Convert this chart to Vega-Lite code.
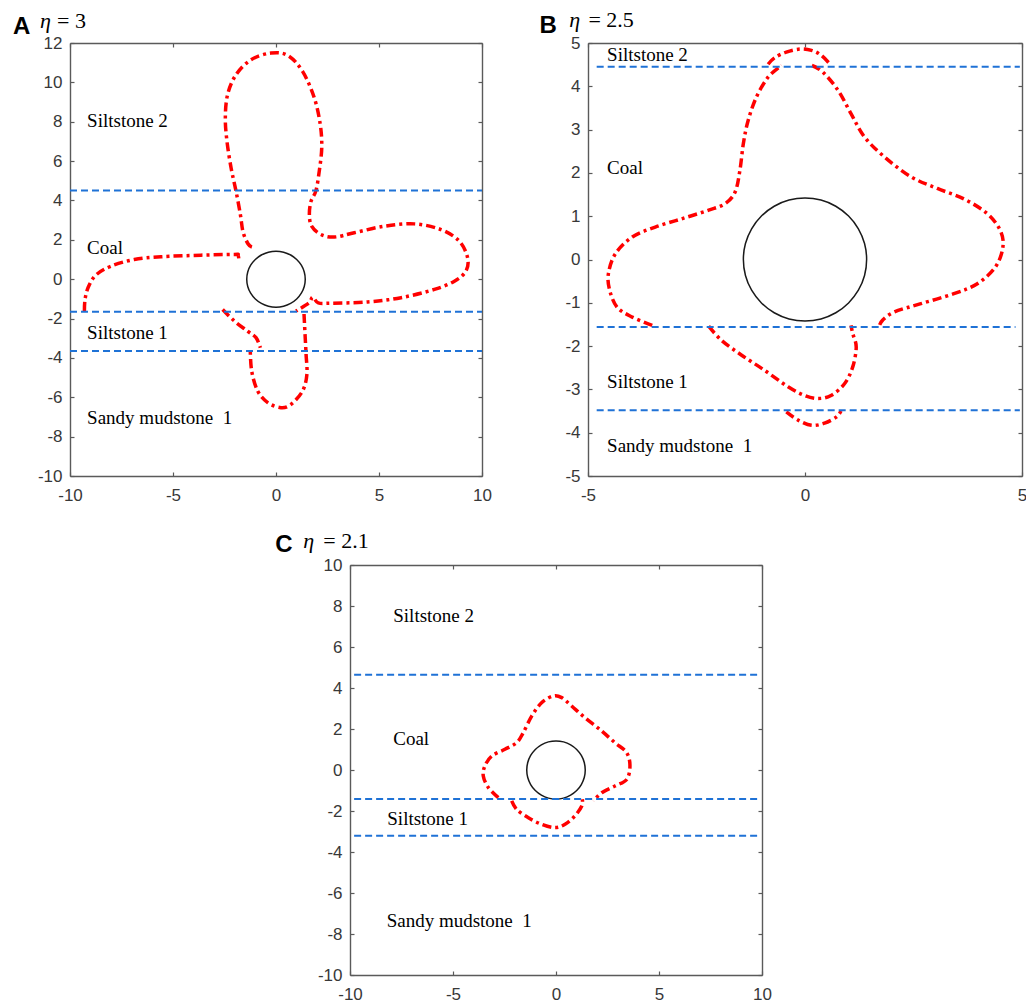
{
  "$schema": "https://vega.github.io/schema/vega-lite/v6.json",
  "background": "white",
  "padding": {"left": 12, "top": 9, "right": 0, "bottom": 0},
  "autosize": {"type": "pad"},
  "config": {
    "view": {"stroke": null},
    "axis": {"grid": false, "labelFont": "Liberation Sans", "labelFontSize": 17, "labelColor": "#383838", "domainColor": "#5a5a5a", "domainWidth": 1.4, "tickColor": "#5a5a5a", "tickWidth": 1.2, "tickSize": -4, "labelFlush": false, "labelOverlap": false},
    "axisBottom": {"labelPadding": 15},
    "axisLeft": {"labelPadding": 12}
  },
  "datasets": {
    "circle": [
      {"x": 1.42, "y": 0}, {"x": 1.372, "y": 0.368}, {"x": 1.23, "y": 0.71}, {"x": 1.004, "y": 1.004}, {"x": 0.71, "y": 1.23}, {"x": 0.368, "y": 1.372},
      {"x": 0, "y": 1.42}, {"x": -0.368, "y": 1.372}, {"x": -0.71, "y": 1.23}, {"x": -1.004, "y": 1.004}, {"x": -1.23, "y": 0.71}, {"x": -1.372, "y": 0.368},
      {"x": -1.42, "y": 0}, {"x": -1.372, "y": -0.368}, {"x": -1.23, "y": -0.71}, {"x": -1.004, "y": -1.004}, {"x": -0.71, "y": -1.23}, {"x": -0.368, "y": -1.372},
      {"x": 0, "y": -1.42}, {"x": 0.368, "y": -1.372}, {"x": 0.71, "y": -1.23}, {"x": 1.004, "y": -1.004}, {"x": 1.23, "y": -0.71}, {"x": 1.372, "y": -0.368}
    ],
    "curvesA": [
      {"seg": "a1", "x": -9.30, "y": -1.62}, {"seg": "a1", "x": -9.27, "y": -1.03}, {"seg": "a1", "x": -9.11, "y": -0.40}, {"seg": "a1", "x": -8.74, "y": 0.21}, {"seg": "a1", "x": -8.01, "y": 0.66}, {"seg": "a1", "x": -6.88, "y": 1.00}, {"seg": "a1", "x": -5.58, "y": 1.14}, {"seg": "a1", "x": -3.64, "y": 1.22}, {"seg": "a1", "x": -2.02, "y": 1.26}, {"seg": "a1", "x": -1.85, "y": 1.24}, {"seg": "a1", "x": -1.80, "y": 0.97},
      {"seg": "a2", "x": -1.17, "y": 1.63}, {"seg": "a2", "x": -1.36, "y": 1.80}, {"seg": "a2", "x": -1.60, "y": 2.40}, {"seg": "a2", "x": -1.73, "y": 3.29}, {"seg": "a2", "x": -1.94, "y": 4.47}, {"seg": "a2", "x": -2.18, "y": 5.65}, {"seg": "a2", "x": -2.38, "y": 7.01}, {"seg": "a2", "x": -2.46, "y": 8.19}, {"seg": "a2", "x": -2.35, "y": 9.38}, {"seg": "a2", "x": -1.94, "y": 10.39}, {"seg": "a2", "x": -1.21, "y": 11.15}, {"seg": "a2", "x": -0.24, "y": 11.49}, {"seg": "a2", "x": 0.57, "y": 11.37}, {"seg": "a2", "x": 1.29, "y": 10.56}, {"seg": "a2", "x": 1.86, "y": 9.21}, {"seg": "a2", "x": 2.15, "y": 7.85}, {"seg": "a2", "x": 2.22, "y": 6.67}, {"seg": "a2", "x": 2.10, "y": 5.49}, {"seg": "a2", "x": 1.94, "y": 4.50}, {"seg": "a2", "x": 1.70, "y": 3.96}, {"seg": "a2", "x": 1.62, "y": 3.29}, {"seg": "a2", "x": 1.73, "y": 2.69}, {"seg": "a2", "x": 2.18, "y": 2.27}, {"seg": "a2", "x": 2.83, "y": 2.14}, {"seg": "a2", "x": 3.80, "y": 2.36}, {"seg": "a2", "x": 5.26, "y": 2.69}, {"seg": "a2", "x": 6.72, "y": 2.81}, {"seg": "a2", "x": 8.01, "y": 2.52}, {"seg": "a2", "x": 8.90, "y": 1.93}, {"seg": "a2", "x": 9.30, "y": 1.09}, {"seg": "a2", "x": 9.22, "y": 0.41}, {"seg": "a2", "x": 8.66, "y": -0.10}, {"seg": "a2", "x": 7.69, "y": -0.52}, {"seg": "a2", "x": 6.07, "y": -0.94}, {"seg": "a2", "x": 4.45, "y": -1.16}, {"seg": "a2", "x": 2.67, "y": -1.22}, {"seg": "a2", "x": 2.05, "y": -1.20}, {"seg": "a2", "x": 1.78, "y": -0.91}, {"seg": "a2", "x": 1.60, "y": -1.20}, {"seg": "a2", "x": 0.97, "y": -1.62},
      {"seg": "a3", "x": -2.59, "y": -1.54}, {"seg": "a3", "x": -2.02, "y": -2.13}, {"seg": "a3", "x": -1.38, "y": -2.64}, {"seg": "a3", "x": -0.97, "y": -2.97}, {"seg": "a3", "x": -0.76, "y": -3.48},
      {"seg": "a4", "x": 1.36, "y": -1.77}, {"seg": "a4", "x": 1.41, "y": -2.81}, {"seg": "a4", "x": 1.46, "y": -3.82}, {"seg": "a4", "x": 1.50, "y": -4.84}, {"seg": "a4", "x": 1.29, "y": -5.68}, {"seg": "a4", "x": 0.73, "y": -6.36}, {"seg": "a4", "x": 0.24, "y": -6.53}, {"seg": "a4", "x": -0.40, "y": -6.27}, {"seg": "a4", "x": -0.89, "y": -5.68}, {"seg": "a4", "x": -1.18, "y": -4.67}, {"seg": "a4", "x": -1.25, "y": -3.57}
    ],
    "curvesB": [
      {"seg": "b1", "x": -3.52, "y": -1.52}, {"seg": "b1", "x": -3.98, "y": -1.33}, {"seg": "b1", "x": -4.33, "y": -1.10}, {"seg": "b1", "x": -4.50, "y": -0.71}, {"seg": "b1", "x": -4.53, "y": -0.33}, {"seg": "b1", "x": -4.37, "y": 0.13}, {"seg": "b1", "x": -3.98, "y": 0.52}, {"seg": "b1", "x": -3.45, "y": 0.75}, {"seg": "b1", "x": -2.84, "y": 0.94}, {"seg": "b1", "x": -2.22, "y": 1.14}, {"seg": "b1", "x": -1.84, "y": 1.29}, {"seg": "b1", "x": -1.61, "y": 1.56}, {"seg": "b1", "x": -1.50, "y": 2.06}, {"seg": "b1", "x": -1.42, "y": 2.68}, {"seg": "b1", "x": -1.31, "y": 3.21}, {"seg": "b1", "x": -1.12, "y": 3.75}, {"seg": "b1", "x": -0.85, "y": 4.21}, {"seg": "b1", "x": -0.54, "y": 4.48},
      {"seg": "bc", "x": -0.85, "y": 4.51}, {"seg": "bc", "x": -0.70, "y": 4.66}, {"seg": "bc", "x": -0.43, "y": 4.79}, {"seg": "bc", "x": -0.12, "y": 4.86}, {"seg": "bc", "x": 0.15, "y": 4.83}, {"seg": "bc", "x": 0.37, "y": 4.72}, {"seg": "bc", "x": 0.57, "y": 4.52},
      {"seg": "b2", "x": 0.16, "y": 4.48}, {"seg": "b2", "x": 0.41, "y": 4.33}, {"seg": "b2", "x": 0.76, "y": 3.91}, {"seg": "b2", "x": 1.06, "y": 3.37}, {"seg": "b2", "x": 1.37, "y": 2.83}, {"seg": "b2", "x": 1.83, "y": 2.37}, {"seg": "b2", "x": 2.44, "y": 1.91}, {"seg": "b2", "x": 3.05, "y": 1.64}, {"seg": "b2", "x": 3.66, "y": 1.40}, {"seg": "b2", "x": 4.20, "y": 1.06}, {"seg": "b2", "x": 4.50, "y": 0.67}, {"seg": "b2", "x": 4.56, "y": 0.29}, {"seg": "b2", "x": 4.39, "y": -0.17}, {"seg": "b2", "x": 3.97, "y": -0.56}, {"seg": "b2", "x": 3.43, "y": -0.79}, {"seg": "b2", "x": 2.67, "y": -1.02}, {"seg": "b2", "x": 2.06, "y": -1.21}, {"seg": "b2", "x": 1.79, "y": -1.40}, {"seg": "b2", "x": 1.71, "y": -1.54},
      {"seg": "b3", "x": -2.22, "y": -1.54}, {"seg": "b3", "x": -1.92, "y": -1.87}, {"seg": "b3", "x": -1.46, "y": -2.21}, {"seg": "b3", "x": -0.93, "y": -2.56}, {"seg": "b3", "x": -0.39, "y": -2.94}, {"seg": "b3", "x": -0.01, "y": -3.14}, {"seg": "b3", "x": 0.30, "y": -3.21}, {"seg": "b3", "x": 0.60, "y": -3.14}, {"seg": "b3", "x": 0.91, "y": -2.87}, {"seg": "b3", "x": 1.10, "y": -2.48}, {"seg": "b3", "x": 1.18, "y": -2.02}, {"seg": "b3", "x": 1.10, "y": -1.71}, {"seg": "b3", "x": 1.06, "y": -1.52},
      {"seg": "b4", "x": -0.43, "y": -3.52}, {"seg": "b4", "x": -0.16, "y": -3.71}, {"seg": "b4", "x": 0.15, "y": -3.83}, {"seg": "b4", "x": 0.45, "y": -3.78}, {"seg": "b4", "x": 0.72, "y": -3.64}, {"seg": "b4", "x": 0.83, "y": -3.50}
    ],
    "curvesC": [
      {"seg": "c1", "x": -2.80, "y": -1.35}, {"seg": "c1", "x": -3.28, "y": -0.86}, {"seg": "c1", "x": -3.53, "y": -0.29}, {"seg": "c1", "x": -3.45, "y": 0.20}, {"seg": "c1", "x": -3.12, "y": 0.68}, {"seg": "c1", "x": -2.48, "y": 1.01}, {"seg": "c1", "x": -1.91, "y": 1.33}, {"seg": "c1", "x": -1.59, "y": 1.82}, {"seg": "c1", "x": -1.18, "y": 2.63}, {"seg": "c1", "x": -0.70, "y": 3.28}, {"seg": "c1", "x": -0.13, "y": 3.61}, {"seg": "c1", "x": 0.28, "y": 3.53}, {"seg": "c1", "x": 0.76, "y": 3.12}, {"seg": "c1", "x": 1.41, "y": 2.55}, {"seg": "c1", "x": 2.22, "y": 1.90}, {"seg": "c1", "x": 2.86, "y": 1.33}, {"seg": "c1", "x": 3.43, "y": 0.85}, {"seg": "c1", "x": 3.59, "y": 0.20}, {"seg": "c1", "x": 3.43, "y": -0.46}, {"seg": "c1", "x": 2.86, "y": -0.78}, {"seg": "c1", "x": 2.22, "y": -1.11}, {"seg": "c1", "x": 1.81, "y": -1.51},
      {"seg": "c2", "x": -2.15, "y": -1.51}, {"seg": "c2", "x": -1.91, "y": -1.92}, {"seg": "c2", "x": -1.34, "y": -2.33}, {"seg": "c2", "x": -0.70, "y": -2.65}, {"seg": "c2", "x": -0.05, "y": -2.81}, {"seg": "c2", "x": 0.44, "y": -2.65}, {"seg": "c2", "x": 0.92, "y": -2.24}, {"seg": "c2", "x": 1.25, "y": -1.76}, {"seg": "c2", "x": 1.28, "y": -1.43}
    ],
    "linesA": [{"y": 4.5, "x": -10, "xe": 10}, {"y": -1.65, "x": -10, "xe": 10}, {"y": -3.65, "x": -10, "xe": 10}],
    "linesB": [{"y": 4.45, "x": -4.8, "xe": 4.95}, {"y": -1.56, "x": -4.8, "xe": 4.85}, {"y": -3.48, "x": -4.8, "xe": 4.95}],
    "linesC": [{"y": 4.65, "x": -9.8, "xe": 9.9}, {"y": -1.42, "x": -9.8, "xe": 9.9}, {"y": -3.21, "x": -9.8, "xe": 9.9}],
    "labelsA": [{"x": -9.17, "y": 8.03, "label": "Siltstone 2"}, {"x": -9.17, "y": 1.56, "label": "Coal"}, {"x": -9.17, "y": -2.72, "label": "Siltstone 1"}, {"x": -9.17, "y": -7.04, "label": "Sandy mudstone \u00a01"}],
    "labelsB": [{"x": -4.56, "y": 4.72, "label": "Siltstone 2"}, {"x": -4.56, "y": 2.11, "label": "Coal"}, {"x": -4.56, "y": -2.83, "label": "Siltstone 1"}, {"x": -4.56, "y": -4.31, "label": "Sandy mudstone \u00a01"}],
    "labelsC": [{"x": -7.9, "y": 7.52, "label": "Siltstone 2"}, {"x": -7.9, "y": 1.5, "label": "Coal"}, {"x": -8.19, "y": -2.37, "label": "Siltstone 1"}, {"x": -8.22, "y": -7.36, "label": "Sandy mudstone \u00a01"}]
  },
  "vconcat": [
    {
      "hconcat": [
        {
          "width": 412, "height": 433,
          "encoding": {
            "x": {"field": "x", "type": "quantitative", "scale": {"domain": [-10, 10], "nice": false, "zero": false}, "axis": null},
            "y": {"field": "y", "type": "quantitative", "scale": {"domain": [-10, 12], "nice": false, "zero": false}, "axis": null}
          },
          "layer": [
            {"data": {"name": "curvesA"}, "mark": {"type": "line", "stroke": "#ff0000", "strokeWidth": 3.5, "strokeDash": [9, 4, 3, 4], "interpolate": "cardinal"},
             "encoding": {
               "x": {"field": "x", "type": "quantitative", "scale": {"domain": [-10, 10], "nice": false, "zero": false}, "axis": {"orient": "bottom", "values": [-10, -5, 0, 5, 10], "title": null, "labelExpr": "'' + datum.value"}},
               "y": {"field": "y", "type": "quantitative", "scale": {"domain": [-10, 12], "nice": false, "zero": false}, "axis": {"orient": "left", "values": [-10, -8, -6, -4, -2, 0, 2, 4, 6, 8, 10, 12], "title": null, "labelExpr": "'' + datum.value"}},
               "detail": {"field": "seg"}, "order": {"value": null}}},
            {"data": {"name": "circle"}, "mark": {"type": "line", "stroke": "#1a1a1a", "strokeWidth": 1.5, "interpolate": "cardinal-closed"},
             "encoding": {
               "x": {"field": "x", "type": "quantitative", "scale": {"domain": [-10, 10], "nice": false, "zero": false}, "axis": {"orient": "top", "values": [-10, -5, 0, 5, 10], "labels": false, "title": null}},
               "y": {"field": "y", "type": "quantitative", "scale": {"domain": [-10, 12], "nice": false, "zero": false}, "axis": {"orient": "right", "values": [-10, -8, -6, -4, -2, 0, 2, 4, 6, 8, 10, 12], "labels": false, "title": null}},
               "order": {"value": null}}},
            {"data": {"name": "linesA"}, "mark": {"type": "rule", "stroke": "#1f72d6", "strokeWidth": 2, "strokeDash": [7, 4]}, "encoding": {"x2": {"field": "xe"}}},
            {"data": {"name": "labelsA"}, "mark": {"type": "text", "font": "Liberation Serif", "fontSize": 19, "align": "left", "baseline": "middle", "fill": "#000000"}, "encoding": {"text": {"field": "label"}}},
            {"data": {"values": [{"x": -12.77, "y": 12.44, "label": "A"}]}, "mark": {"type": "text", "font": "Liberation Sans", "fontWeight": "bold", "fontSize": 24, "align": "left", "baseline": "alphabetic", "fill": "#000000"}, "encoding": {"text": {"field": "label"}}},
            {"data": {"values": [{"x": -11.46, "y": 12.75, "label": "η"}]}, "mark": {"type": "text", "font": "Liberation Serif", "fontStyle": "italic", "fontSize": 22, "align": "left", "baseline": "alphabetic", "fill": "#000000"}, "encoding": {"text": {"field": "label"}}},
            {"data": {"values": [{"x": -10.63, "y": 12.75, "label": "= 3"}]}, "mark": {"type": "text", "font": "Liberation Serif", "fontSize": 22, "align": "left", "baseline": "alphabetic", "fill": "#000000"}, "encoding": {"text": {"field": "label"}}}
          ],
          "resolve": {"axis": {"x": "independent", "y": "independent"}}
        },
        {
          "width": 434, "height": 433,
          "encoding": {
            "x": {"field": "x", "type": "quantitative", "scale": {"domain": [-5, 5], "nice": false, "zero": false}, "axis": null},
            "y": {"field": "y", "type": "quantitative", "scale": {"domain": [-5, 5], "nice": false, "zero": false}, "axis": null}
          },
          "layer": [
            {"data": {"name": "curvesB"}, "mark": {"type": "line", "stroke": "#ff0000", "strokeWidth": 3.5, "strokeDash": [9, 4, 3, 4], "interpolate": "cardinal"},
             "encoding": {
               "x": {"field": "x", "type": "quantitative", "scale": {"domain": [-5, 5], "nice": false, "zero": false}, "axis": {"orient": "bottom", "values": [-5, 0, 5], "title": null, "labelExpr": "'' + datum.value"}},
               "y": {"field": "y", "type": "quantitative", "scale": {"domain": [-5, 5], "nice": false, "zero": false}, "axis": {"orient": "left", "values": [-5, -4, -3, -2, -1, 0, 1, 2, 3, 4, 5], "title": null, "labelExpr": "'' + datum.value"}},
               "detail": {"field": "seg"}, "order": {"value": null}}},
            {"data": {"name": "circle"}, "mark": {"type": "line", "stroke": "#1a1a1a", "strokeWidth": 1.5, "interpolate": "cardinal-closed"},
             "encoding": {
               "x": {"field": "x", "type": "quantitative", "scale": {"domain": [-5, 5], "nice": false, "zero": false}, "axis": {"orient": "top", "values": [-5, 0, 5], "labels": false, "title": null}},
               "y": {"field": "y", "type": "quantitative", "scale": {"domain": [-5, 5], "nice": false, "zero": false}, "axis": {"orient": "right", "values": [-5, -4, -3, -2, -1, 0, 1, 2, 3, 4, 5], "labels": false, "title": null}},
               "order": {"value": null}}},
            {"data": {"name": "linesB"}, "mark": {"type": "rule", "stroke": "#1f72d6", "strokeWidth": 2, "strokeDash": [7, 4]}, "encoding": {"x2": {"field": "xe"}}},
            {"data": {"name": "labelsB"}, "mark": {"type": "text", "font": "Liberation Serif", "fontSize": 19, "align": "left", "baseline": "middle", "fill": "#000000"}, "encoding": {"text": {"field": "label"}}},
            {"data": {"values": [{"x": -6.12, "y": 5.22, "label": "B"}]}, "mark": {"type": "text", "font": "Liberation Sans", "fontWeight": "bold", "fontSize": 24, "align": "left", "baseline": "alphabetic", "fill": "#000000"}, "encoding": {"text": {"field": "label"}}},
            {"data": {"values": [{"x": -5.43, "y": 5.36, "label": "η"}]}, "mark": {"type": "text", "font": "Liberation Serif", "fontStyle": "italic", "fontSize": 22, "align": "left", "baseline": "alphabetic", "fill": "#000000"}, "encoding": {"text": {"field": "label"}}},
            {"data": {"values": [{"x": -4.99, "y": 5.36, "label": "= 2.5"}]}, "mark": {"type": "text", "font": "Liberation Serif", "fontSize": 22, "align": "left", "baseline": "alphabetic", "fill": "#000000"}, "encoding": {"text": {"field": "label"}}}
          ],
          "resolve": {"axis": {"x": "independent", "y": "independent"}}
        }
      ],
      "spacing": 47
    },
    {
      "hconcat": [
        {"width": 195, "height": 10, "data": {"values": [{}]}, "mark": {"type": "text", "text": ""}},
        {
          "width": 412, "height": 410,
          "encoding": {
            "x": {"field": "x", "type": "quantitative", "scale": {"domain": [-10, 10], "nice": false, "zero": false}, "axis": null},
            "y": {"field": "y", "type": "quantitative", "scale": {"domain": [-10, 10], "nice": false, "zero": false}, "axis": null}
          },
          "layer": [
            {"data": {"name": "curvesC"}, "mark": {"type": "line", "stroke": "#ff0000", "strokeWidth": 3.5, "strokeDash": [9, 4, 3, 4], "interpolate": "cardinal"},
             "encoding": {
               "x": {"field": "x", "type": "quantitative", "scale": {"domain": [-10, 10], "nice": false, "zero": false}, "axis": {"orient": "bottom", "values": [-10, -5, 0, 5, 10], "title": null, "labelExpr": "'' + datum.value"}},
               "y": {"field": "y", "type": "quantitative", "scale": {"domain": [-10, 10], "nice": false, "zero": false}, "axis": {"orient": "left", "values": [-10, -8, -6, -4, -2, 0, 2, 4, 6, 8, 10], "title": null, "labelExpr": "'' + datum.value"}},
               "detail": {"field": "seg"}, "order": {"value": null}}},
            {"data": {"name": "circle"}, "mark": {"type": "line", "stroke": "#1a1a1a", "strokeWidth": 1.5, "interpolate": "cardinal-closed"},
             "encoding": {
               "x": {"field": "x", "type": "quantitative", "scale": {"domain": [-10, 10], "nice": false, "zero": false}, "axis": {"orient": "top", "values": [-10, -5, 0, 5, 10], "labels": false, "title": null}},
               "y": {"field": "y", "type": "quantitative", "scale": {"domain": [-10, 10], "nice": false, "zero": false}, "axis": {"orient": "right", "values": [-10, -8, -6, -4, -2, 0, 2, 4, 6, 8, 10], "labels": false, "title": null}},
               "order": {"value": null}}},
            {"data": {"name": "linesC"}, "mark": {"type": "rule", "stroke": "#1f72d6", "strokeWidth": 2, "strokeDash": [7, 4]}, "encoding": {"x2": {"field": "xe"}}},
            {"data": {"name": "labelsC"}, "mark": {"type": "text", "font": "Liberation Serif", "fontSize": 19, "align": "left", "baseline": "middle", "fill": "#000000"}, "encoding": {"text": {"field": "label"}}},
            {"data": {"values": [{"x": -13.63, "y": 10.62, "label": "C"}]}, "mark": {"type": "text", "font": "Liberation Sans", "fontWeight": "bold", "fontSize": 24, "align": "left", "baseline": "alphabetic", "fill": "#000000"}, "encoding": {"text": {"field": "label"}}},
            {"data": {"values": [{"x": -12.27, "y": 10.85, "label": "η"}]}, "mark": {"type": "text", "font": "Liberation Serif", "fontStyle": "italic", "fontSize": 22, "align": "left", "baseline": "alphabetic", "fill": "#000000"}, "encoding": {"text": {"field": "label"}}},
            {"data": {"values": [{"x": -11.30, "y": 10.85, "label": "= 2.1"}]}, "mark": {"type": "text", "font": "Liberation Serif", "fontSize": 22, "align": "left", "baseline": "alphabetic", "fill": "#000000"}, "encoding": {"text": {"field": "label"}}}
          ],
          "resolve": {"axis": {"x": "independent", "y": "independent"}}
        }
      ],
      "spacing": 10
    }
  ],
  "spacing": 26
}
